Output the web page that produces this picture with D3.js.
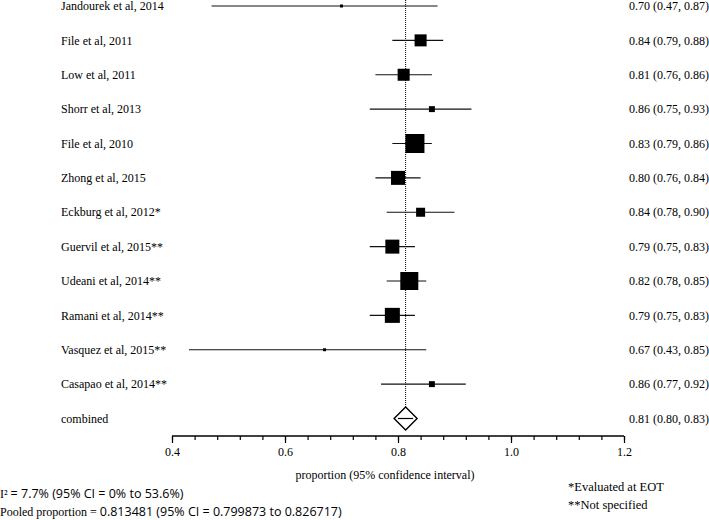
<!DOCTYPE html>
<html>
<head>
<meta charset="utf-8">
<script src="https://cdn.jsdelivr.net/npm/d3@7"></script>
<style>
  body { margin: 0; background: #fff; }
  svg { display: block; }
  .serif { font-family: "Liberation Serif", "DejaVu Serif", serif; }
  .sans { font-family: "Open Sans", "Liberation Sans", sans-serif; }
</style>
</head>
<body>
<script>
// study data
const studies = ["Jandourek et al, 2014", "File et al, 2011", "Low et al, 2011", "Shorr et al, 2013",
  "File et al, 2010", "Zhong et al, 2015", "Eckburg et al, 2012*", "Guervil et al, 2015**",
  "Udeani et al, 2014**", "Ramani et al, 2014**", "Vasquez et al, 2015**", "Casapao et al, 2014**"];
const estimates = [0.70, 0.84, 0.81, 0.86, 0.83, 0.80, 0.84, 0.79, 0.82, 0.79, 0.67, 0.86];
const lower = [0.47, 0.79, 0.76, 0.75, 0.79, 0.76, 0.78, 0.75, 0.78, 0.75, 0.43, 0.77];
const upper = [0.87, 0.88, 0.86, 0.93, 0.86, 0.84, 0.90, 0.83, 0.85, 0.83, 0.85, 0.92];
// relative weights (%), estimated from the square sizes
const weights = [0.5, 8.2, 8.2, 2.0, 20.5, 11.1, 4.6, 11.1, 18.4, 12.8, 0.5, 2.0];

const pooled = 0.813481, pooledLo = 0.799873, pooledHi = 0.826717;
const majorTicks = [0.4, 0.6, 0.8, 1.0, 1.2];
const minorTicks = d3.range(0, 21).map(i => 0.4 + i * 0.04);

const width = 709, height = 520;

const svg = d3.select("body").append("svg")
  .attr("width", width)
  .attr("height", height);

const x = d3.scaleLinear().domain([0.4, 1.2]).range([172, 624]);
const y = d3.scalePoint().domain(studies.concat(["combined"])).range([6, 418.5]);
const side = d3.scaleSqrt().domain([0, d3.max(weights)]).range([0, 19]);
const fmt = d3.format(".2f");

const rows = studies.map((s, i) => ({ name: s, est: estimates[i], lo: lower[i], hi: upper[i], w: weights[i] }));

// dotted reference line at the pooled value
svg.append("line")
  .attr("x1", x(pooled)).attr("x2", x(pooled))
  .attr("y1", 0).attr("y2", y("combined") - 11)
  .attr("stroke", "#000")
  .attr("stroke-width", 1)
  .attr("stroke-dasharray", "1,1");

const g = svg.selectAll("g.row").data(rows)
  .enter().append("g").attr("class", "row");

g.append("line")
  .attr("x1", d => x(d.lo)).attr("x2", d => x(d.hi))
  .attr("y1", d => y(d.name)).attr("y2", d => y(d.name))
  .attr("stroke", "#111")
  .attr("stroke-width", 1.2);

g.append("rect")
  .attr("x", d => x(d.est) - side(d.w) / 2)
  .attr("y", d => y(d.name) - side(d.w) / 2)
  .attr("width", d => side(d.w))
  .attr("height", d => side(d.w))
  .attr("fill", "#000");

g.append("text")
  .attr("class", "serif")
  .attr("x", 61)
  .attr("y", d => y(d.name))
  .attr("dy", "0.35em")
  .attr("font-size", 12)
  .text(d => d.name);

g.append("text")
  .attr("class", "serif")
  .attr("x", 629)
  .attr("y", d => y(d.name))
  .attr("dy", "0.35em")
  .attr("font-size", 12)
  .text(d => fmt(d.est) + " (" + fmt(d.lo) + ", " + fmt(d.hi) + ")");

// combined row
const cy = y("combined"), cx = x(pooled), dh = 11.5;
svg.append("path")
  .attr("d", `M${cx},${cy - dh}L${cx + dh},${cy}L${cx},${cy + dh}L${cx - dh},${cy}Z`)
  .attr("fill", "#fff")
  .attr("stroke", "#000")
  .attr("stroke-width", 1.4);
svg.append("line")
  .attr("x1", x(pooledLo)).attr("x2", x(pooledHi))
  .attr("y1", cy).attr("y2", cy)
  .attr("stroke", "#000")
  .attr("stroke-width", 1.2);
svg.append("text")
  .attr("class", "serif")
  .attr("x", 61).attr("y", cy).attr("dy", "0.35em")
  .attr("font-size", 12)
  .text("combined");
svg.append("text")
  .attr("class", "serif")
  .attr("x", 629).attr("y", cy).attr("dy", "0.35em")
  .attr("font-size", 12)
  .text(fmt(pooled) + " (" + fmt(pooledLo) + ", " + fmt(pooledHi) + ")");

// axis: minor and major ticks
const axisY = 436;
svg.append("g")
  .attr("transform", `translate(0,${axisY})`)
  .call(d3.axisBottom(x).tickValues(minorTicks).tickSize(4).tickFormat(""))
  .call(a => a.select(".domain").remove());
const ax = svg.append("g")
  .attr("transform", `translate(0,${axisY})`)
  .call(d3.axisBottom(x).tickValues(majorTicks).tickSizeInner(7).tickSizeOuter(0).tickFormat(d3.format(".1f")));
ax.select(".domain").attr("d", `M${x(0.4)},0H${x(1.2)}`).attr("stroke-width", 1.4);
svg.selectAll(".tick line").attr("stroke", "#000").attr("stroke-width", 1.2);
ax.selectAll(".tick text")
  .attr("class", "serif")
  .attr("font-size", 12)
  .attr("fill", "#000")
  .attr("y", 11);

svg.append("text")
  .attr("class", "serif")
  .attr("x", 385).attr("y", 479)
  .attr("text-anchor", "middle")
  .attr("font-size", 12)
  .text("proportion (95% confidence interval)");

// footnotes
const f1 = svg.append("text").attr("x", 0).attr("y", 498).attr("font-size", 12);
f1.append("tspan").attr("class", "serif").text("I² ");
f1.append("tspan").attr("class", "sans").attr("font-size", 12.5).text("= 7.7% (95% CI = 0% to 53.6%)");
const f2 = svg.append("text").attr("x", 0).attr("y", 516).attr("font-size", 12);
f2.append("tspan").attr("class", "serif").text("Pooled proportion = ");
f2.append("tspan").attr("class", "sans").attr("font-size", 12.5).text("0.813481 (95% CI = 0.799873 to 0.826717)");

svg.append("text").attr("class", "serif")
  .attr("x", 568).attr("y", 491).attr("font-size", 12.5)
  .text("*Evaluated at EOT");
svg.append("text").attr("class", "serif")
  .attr("x", 568).attr("y", 509).attr("font-size", 12.5)
  .text("**Not specified");
</script>
</body>
</html>
